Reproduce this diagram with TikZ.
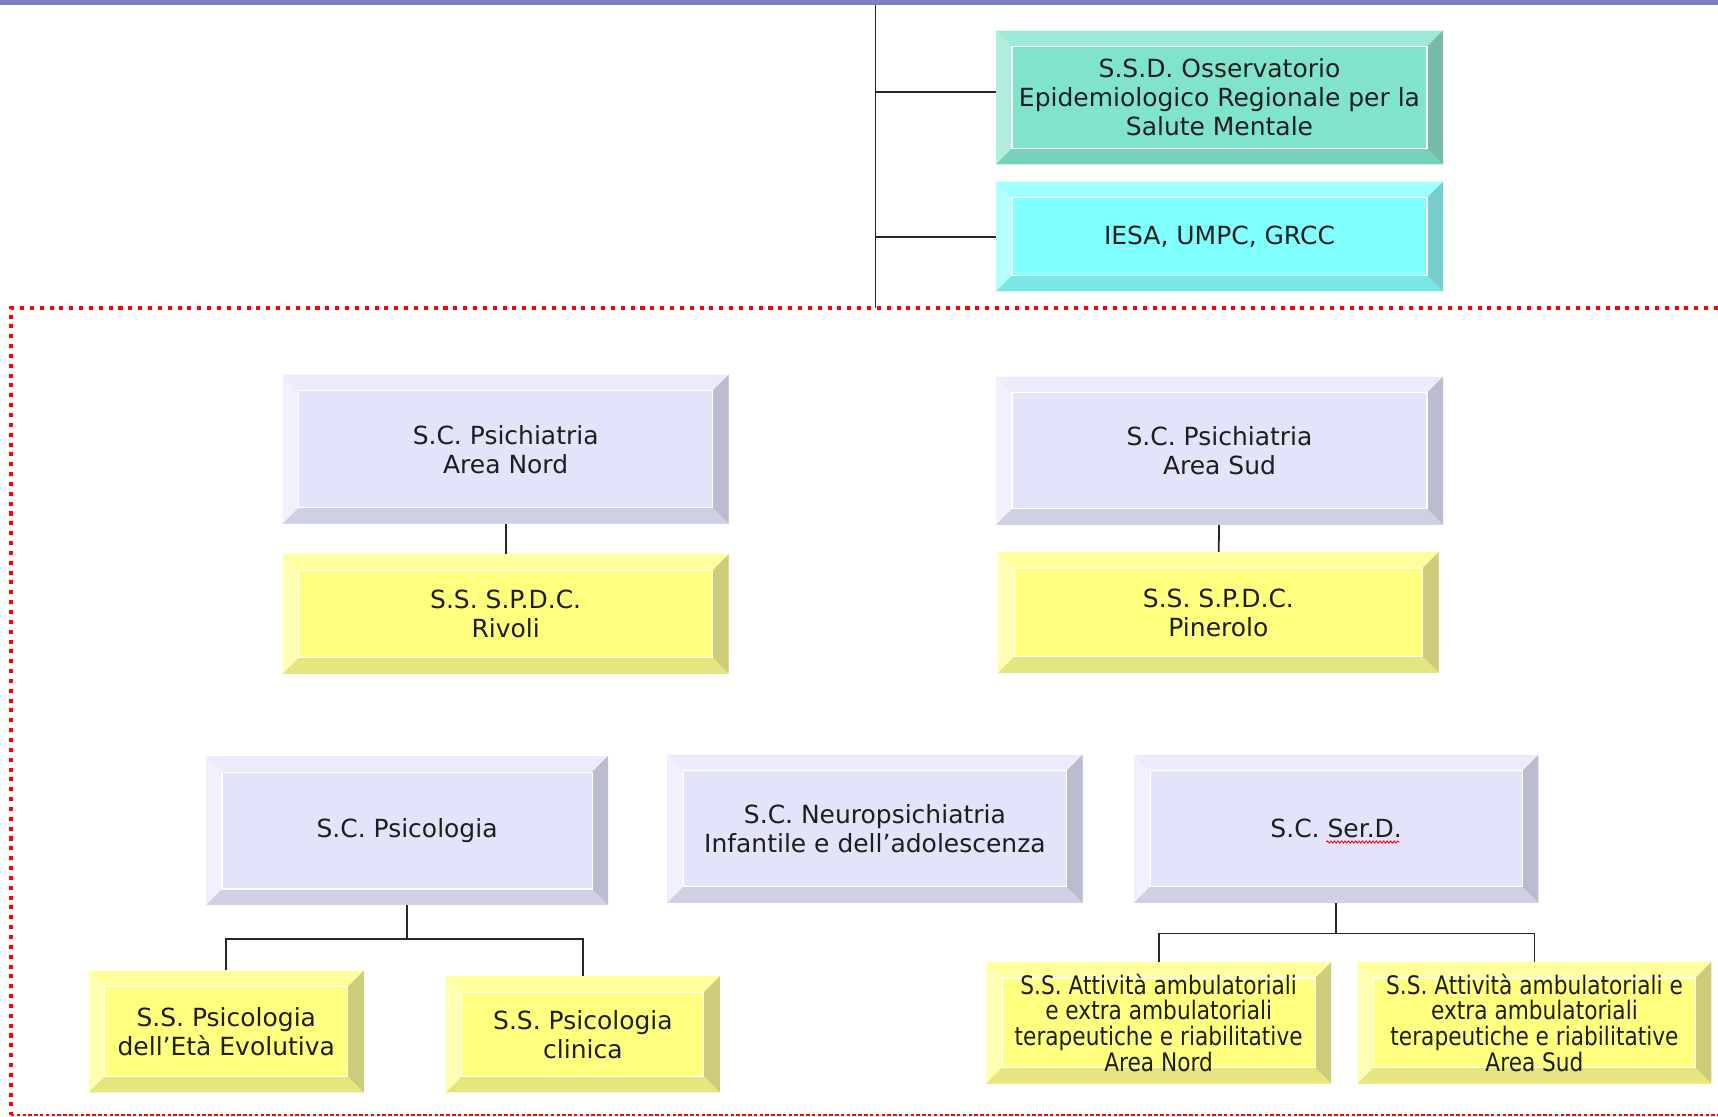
\documentclass[tikz,border=0pt]{standalone}
\usepackage{fontspec}
\setmainfont{DejaVu Sans}
\newfontfamily\narrowfont[FakeStretch=0.85]{DejaVu Sans}
\usepackage{tikz}
\usepackage{xcolor}
\usetikzlibrary{calc,decorations.pathmorphing}

\definecolor{txt}{RGB}{30,30,30}
\definecolor{bar}{RGB}{128,128,192}
\definecolor{lavF}{RGB}{227,227,250}
\definecolor{lavT}{RGB}{235,235,252}
\definecolor{lavL}{RGB}{241,241,253}
\definecolor{lavR}{RGB}{188,188,208}
\definecolor{lavB}{RGB}{208,208,229}
\definecolor{yelF}{RGB}{255,255,128}
\definecolor{yelT}{RGB}{255,255,158}
\definecolor{yelL}{RGB}{255,255,180}
\definecolor{yelR}{RGB}{204,204,122}
\definecolor{yelB}{RGB}{230,230,128}
\definecolor{teaF}{RGB}{128,228,204}
\definecolor{teaT}{RGB}{158,234,216}
\definecolor{teaL}{RGB}{178,238,224}
\definecolor{teaR}{RGB}{120,186,168}
\definecolor{teaB}{RGB}{122,208,186}
\definecolor{cyaF}{RGB}{128,255,255}
\definecolor{cyaT}{RGB}{160,255,255}
\definecolor{cyaL}{RGB}{180,255,255}
\definecolor{cyaR}{RGB}{120,206,206}
\definecolor{cyaB}{RGB}{122,230,230}

\newcommand{\bv}{0.32cm}

\tikzset{
  sz/.style 2 args={minimum width=#1*0.0219cm, minimum height=#2*0.0219cm},
  bevel/.style={fill=#1F,
    path picture={
      \path (path picture bounding box.north west) coordinate (a)
            (path picture bounding box.north east) coordinate (b)
            (path picture bounding box.south east) coordinate (c)
            (path picture bounding box.south west) coordinate (d);
      \fill[#1T] (a) -- (b) -- ($(b)+(-\bv,-\bv)$) -- ($(a)+(\bv,-\bv)$) -- cycle;
      \fill[#1L] (a) -- (d) -- ($(d)+(\bv,\bv)$) -- ($(a)+(\bv,-\bv)$) -- cycle;
      \fill[#1R] (b) -- (c) -- ($(c)+(-\bv,\bv)$) -- ($(b)+(-\bv,-\bv)$) -- cycle;
      \fill[#1B] (d) -- (c) -- ($(c)+(-\bv,\bv)$) -- ($(d)+(\bv,\bv)$) -- cycle;
      \draw[white, line width=0.6pt] ($(a)+(\bv,-\bv)$) rectangle ($(c)+(-\bv,\bv)$);
    }},
}

\begin{document}
\begin{tikzpicture}[x=0.0219cm,y=-0.0219cm]
        \tikzstyle{every node}=[align=center, inner sep=0pt, text=txt, font=\fontsize{14.2}{16.5}\selectfont]
        \tikzstyle{link}=[draw=black!85, line width=1pt]
        \tikzstyle{small}=[font=\narrowfont\fontsize{14.5}{14.7}\selectfont]
        \useasboundingbox (0,0) rectangle (1568,1019);

        \fill[bar] (0,0) rectangle (1568,5);
        \coordinate (top) at (799,5);
        \coordinate (base) at (799,281);

        \node[bevel=tea, sz={408}{122}] (11) at (1113,89) {S.S.D. Osservatorio\\Epidemiologico Regionale per la\\Salute Mentale};
        \node[bevel=cya, sz={408}{100}] (12) at (1113,216) {IESA, UMPC, GRCC};

        \draw[link] (top) -- (base);
        \draw[link] ($(11.west)+(0,-5)$) -- ($(11.west -| top)+(0,-5)$);
        \draw[link] (12.west) -- (12.west -| top);

        % dotted frame
        \draw[red, line width=2.3pt, dash pattern=on 2.3pt off 3.3pt] (1568,281) -- (10,281) -- (10,1018);
        \draw[red, line width=1.1pt, dash pattern=on 2pt off 1.3pt] (10,1018) -- (1568,1018);

        \node[bevel=lav, sz={407}{136}] (21) at (461.5,410) {S.C. Psichiatria\\Area Nord};
        \node[bevel=yel, sz={407}{109}] (22) at (461.5,560.5) {S.S. S.P.D.C.\\Rivoli};
        \node[bevel=lav, sz={408}{135}] (23) at (1113,411.5) {S.C. Psichiatria\\Area Sud};
        \node[bevel=yel, sz={402}{110}] (24) at (1112,559) {S.S. S.P.D.C.\\Pinerolo};

        \draw[link] (21) -- (22);
        \draw[link] (23) -- (24);

        \node[bevel=lav, sz={367}{136}] (31) at (371.5,758) {S.C. Psicologia};
        \node[bevel=lav, sz={379}{135}] (32) at (798.5,756.5) {S.C. Neuropsichiatria\\Infantile e dell’adolescenza};
        \node[bevel=lav, sz={369}{135}] (33) at (1219.5,756.5) {S.C. Ser.D.};
        \node[bevel=yel, sz={251}{111}] (34) at (206.5,941.5) {S.S. Psicologia\\dell’Età Evolutiva};
        \node[bevel=yel, sz={250}{106}] (35) at (532,944) {S.S. Psicologia\\clinica};
        \node[bevel=yel, sz={315}{111}, small] (36) at (1057.5,933.5) {S.S. Attività ambulatoriali\\e extra ambulatoriali\\terapeutiche e riabilitative\\Area Nord};
        \node[bevel=yel, sz={323}{111}, small] (37) at (1400.5,933.5) {S.S. Attività ambulatoriali e\\extra ambulatoriali\\terapeutiche e riabilitative\\Area Sud};

        % spelling mark under Ser.D.
        \draw[red, line width=0.5pt, decorate, decoration={snake, amplitude=0.6pt, segment length=2pt}]
            ($(33)+(-9,12)$) -- ($(33)+(58,12)$);

        \coordinate (f1) at (371.5,857);
        \coordinate (f2) at (1219.5,852);
        \draw[link] (31.south) -- (f1);
        \draw[link] (34.north) |- (f1) -| (35.north);
        \draw[link] (33.south) -- (f2);
        \draw[link] (36.north) |- (f2) -| (37.north);
\end{tikzpicture}
\end{document}
